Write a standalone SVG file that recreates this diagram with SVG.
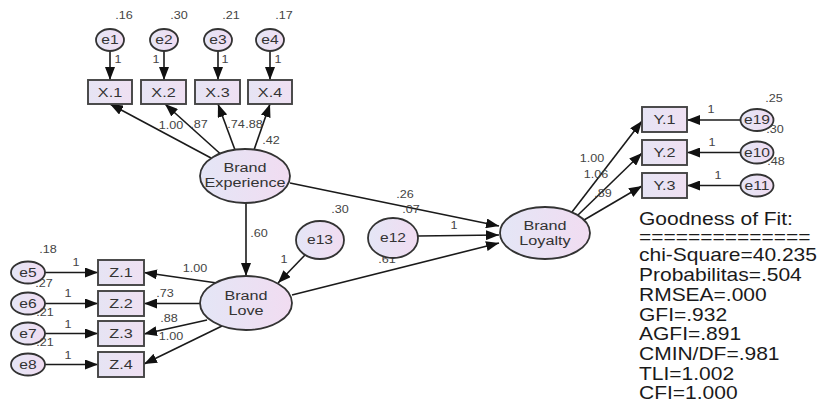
<svg xmlns="http://www.w3.org/2000/svg" width="819" height="402" viewBox="0 0 819 402">
<defs>
<linearGradient id="gE" x1="0" y1="0" x2="1" y2="0">
<stop offset="0" stop-color="#e4e6f6"/>
<stop offset="1" stop-color="#f1dcf1"/>
</linearGradient>
<linearGradient id="gB" x1="0" y1="0" x2="1" y2="0">
<stop offset="0" stop-color="#e6e4f4"/>
<stop offset="1" stop-color="#efe0f2"/>
</linearGradient>
<marker id="ah" markerUnits="userSpaceOnUse" markerWidth="14" markerHeight="10" refX="13" refY="5" orient="auto">
<path d="M0,0 L13,5 L0,10 z" fill="#111"/>
</marker>
</defs>
<style>
text{font-family:"Liberation Sans",Arial,sans-serif;fill:#222;transform-box:fill-box;transform-origin:center;transform:scaleX(1.2)}
.n{font-size:10.5px;text-anchor:middle;fill:#444}
.lbl{font-size:13.5px;text-anchor:middle;fill:#333}
.e{font-size:13px;text-anchor:middle;fill:#333}
.g{font-size:17.5px;text-anchor:start;transform-origin:left center;fill:#1a1a1a}
.box{fill:url(#gB);stroke:#444;stroke-width:1.9}
.ell{fill:url(#gE);stroke:#333;stroke-width:1.8}
.c line{stroke:#1a1a1a;stroke-width:1.6;marker-end:url(#ah)}
</style>
<rect width="819" height="402" fill="#fff"/>

<g class="c" id="connectors">
<line x1="110" y1="51" x2="110" y2="80"/>
<line x1="164" y1="51" x2="164" y2="80"/>
<line x1="218" y1="51" x2="218" y2="80"/>
<line x1="270" y1="51" x2="270" y2="80"/>
<line x1="211" y1="158" x2="110" y2="104"/>
<line x1="220" y1="153.5" x2="165" y2="104"/>
<line x1="235" y1="150" x2="218" y2="104"/>
<line x1="254" y1="150" x2="270" y2="104"/>
<line x1="246" y1="203" x2="246" y2="276"/>
<line x1="305" y1="255" x2="278" y2="283"/>
<line x1="217" y1="283" x2="144" y2="272.5"/>
<line x1="200" y1="303.5" x2="144" y2="303.5"/>
<line x1="207" y1="320" x2="144" y2="334"/>
<line x1="222" y1="326" x2="144" y2="364"/>
<line x1="45" y1="272.5" x2="98" y2="272.5"/>
<line x1="45" y1="303.5" x2="98" y2="303.5"/>
<line x1="45" y1="333.5" x2="98" y2="333.5"/>
<line x1="45" y1="364.5" x2="98" y2="364.5"/>
<line x1="290" y1="183" x2="499" y2="226"/>
<line x1="418" y1="236" x2="499" y2="235"/>
<line x1="292" y1="295" x2="499" y2="243"/>
<line x1="572" y1="212" x2="642" y2="121"/>
<line x1="578" y1="215" x2="642" y2="153"/>
<line x1="584" y1="220" x2="642" y2="186"/>
<line x1="740" y1="120" x2="687" y2="120"/>
<line x1="740" y1="152.5" x2="687" y2="152.5"/>
<line x1="740" y1="185.5" x2="687" y2="185.5"/>
</g>

<g id="path-labels">
<text class="n" x="118" y="63">1</text>
<text class="n" x="156" y="63">1</text>
<text class="n" x="225" y="63">1</text>
<text class="n" x="278" y="63">1</text>
<text class="n" x="171" y="129">1.00</text>
<text class="n" x="199" y="128">.87</text>
<text class="n" x="236" y="128">.74</text>
<text class="n" x="254" y="128">.88</text>
<text class="n" x="271" y="144">.42</text>
<text class="n" x="259" y="237">.60</text>
<text class="n" x="284" y="263">1</text>
<text class="n" x="195" y="272">1.00</text>
<text class="n" x="165" y="297">.73</text>
<text class="n" x="169" y="322">.88</text>
<text class="n" x="171" y="340">1.00</text>
<text class="n" x="76" y="266">1</text>
<text class="n" x="68" y="297">1</text>
<text class="n" x="68" y="328">1</text>
<text class="n" x="68" y="359">1</text>
<text class="n" x="405" y="198">.26</text>
<text class="n" x="411" y="213">.07</text>
<text class="n" x="454" y="229">1</text>
<text class="n" x="387" y="263">.61</text>
<text class="n" x="592" y="162">1.00</text>
<text class="n" x="596" y="178">1.06</text>
<text class="n" x="603" y="197">.89</text>
<text class="n" x="711" y="113">1</text>
<text class="n" x="712" y="146">1</text>
<text class="n" x="718" y="179">1</text>
</g>

<g id="e1"><ellipse class="ell" cx="110" cy="40" rx="14" ry="11"/><text class="e" x="110" y="44.5">e1</text><text class="n" x="124" y="19">.16</text></g>
<g id="e2"><ellipse class="ell" cx="164" cy="40" rx="14" ry="11"/><text class="e" x="164" y="44.5">e2</text><text class="n" x="179" y="19">.30</text></g>
<g id="e3"><ellipse class="ell" cx="218" cy="40" rx="14" ry="11"/><text class="e" x="218" y="44.5">e3</text><text class="n" x="231" y="19">.21</text></g>
<g id="e4"><ellipse class="ell" cx="270" cy="40" rx="14" ry="11"/><text class="e" x="270" y="44.5">e4</text><text class="n" x="284" y="19">.17</text></g>

<g id="X1"><rect class="box" x="88" y="80" width="44" height="24"/><text class="lbl" x="110" y="97">X.1</text></g>
<g id="X2"><rect class="box" x="141" y="80" width="45" height="24"/><text class="lbl" x="163.5" y="97">X.2</text></g>
<g id="X3"><rect class="box" x="195" y="80" width="45" height="24"/><text class="lbl" x="217.5" y="97">X.3</text></g>
<g id="X4"><rect class="box" x="248" y="80" width="44" height="24"/><text class="lbl" x="270" y="97">X.4</text></g>

<g id="brand-experience"><ellipse class="ell" cx="245" cy="176" rx="45" ry="27"/><text class="lbl" x="245" y="172">Brand</text><text class="lbl" x="245" y="187">Experience</text></g>
<g id="brand-love"><ellipse class="ell" cx="246" cy="303" rx="46" ry="27"/><text class="lbl" x="246" y="300">Brand</text><text class="lbl" x="246" y="315">Love</text></g>
<g id="brand-loyalty"><ellipse class="ell" cx="545" cy="233" rx="45" ry="26"/><text class="lbl" x="545" y="230">Brand</text><text class="lbl" x="545" y="245">Loyalty</text></g>

<g id="e13"><ellipse class="ell" cx="320" cy="240" rx="24" ry="19"/><text class="e" x="320" y="244.5">e13</text><text class="n" x="340" y="213">.30</text></g>
<g id="e12"><ellipse class="ell" cx="393" cy="238" rx="25" ry="20"/><text class="e" x="393" y="242.5">e12</text></g>

<g id="Z1"><rect class="box" x="98" y="260" width="46" height="25"/><text class="lbl" x="121" y="277.5">Z.1</text></g>
<g id="Z2"><rect class="box" x="98" y="291" width="46" height="25"/><text class="lbl" x="121" y="308.5">Z.2</text></g>
<g id="Z3"><rect class="box" x="98" y="321" width="46" height="25"/><text class="lbl" x="121" y="338.5">Z.3</text></g>
<g id="Z4"><rect class="box" x="98" y="352" width="46" height="25"/><text class="lbl" x="121" y="369.5">Z.4</text></g>

<g id="e5"><ellipse class="ell" cx="28" cy="272.5" rx="17" ry="11"/><text class="e" x="28" y="277">e5</text><text class="n" x="48" y="253">.18</text></g>
<g id="e6"><ellipse class="ell" cx="28" cy="303.5" rx="17" ry="11"/><text class="e" x="28" y="308">e6</text><text class="n" x="44" y="287">.27</text></g>
<g id="e7"><ellipse class="ell" cx="28" cy="333.5" rx="17" ry="11"/><text class="e" x="28" y="338">e7</text><text class="n" x="45" y="316">.21</text></g>
<g id="e8"><ellipse class="ell" cx="28" cy="364.5" rx="17" ry="11"/><text class="e" x="28" y="369">e8</text><text class="n" x="45" y="346">.21</text></g>

<g id="Y1"><rect class="box" x="642" y="107" width="45" height="25"/><text class="lbl" x="664.5" y="124.5">Y.1</text></g>
<g id="Y2"><rect class="box" x="642" y="140" width="45" height="25"/><text class="lbl" x="664.5" y="157.5">Y.2</text></g>
<g id="Y3"><rect class="box" x="642" y="173" width="45" height="25"/><text class="lbl" x="664.5" y="190.5">Y.3</text></g>

<g id="e19"><ellipse class="ell" cx="757" cy="120" rx="16.5" ry="11"/><text class="e" x="757" y="124.5">e19</text><text class="n" x="774" y="102">.25</text></g>
<g id="e10"><ellipse class="ell" cx="757" cy="152.5" rx="16.5" ry="11"/><text class="e" x="757" y="157">e10</text><text class="n" x="775" y="133">.30</text></g>
<g id="e11"><ellipse class="ell" cx="757" cy="185.5" rx="16.5" ry="11"/><text class="e" x="757" y="190">e11</text><text class="n" x="776" y="165">.48</text></g>

<g id="goodness-of-fit">
<text class="g" x="639" y="225">Goodness of Fit:</text>
<text class="g" x="639" y="243">==============</text>
<text class="g" x="639" y="261">chi-Square=40.235</text>
<text class="g" x="639" y="281">Probabilitas=.504</text>
<text class="g" x="639" y="301">RMSEA=.000</text>
<text class="g" x="639" y="321">GFI=.932</text>
<text class="g" x="639" y="340">AGFI=.891</text>
<text class="g" x="639" y="360">CMIN/DF=.981</text>
<text class="g" x="639" y="380">TLI=1.002</text>
<text class="g" x="639" y="399">CFI=1.000</text>
</g>
</svg>
